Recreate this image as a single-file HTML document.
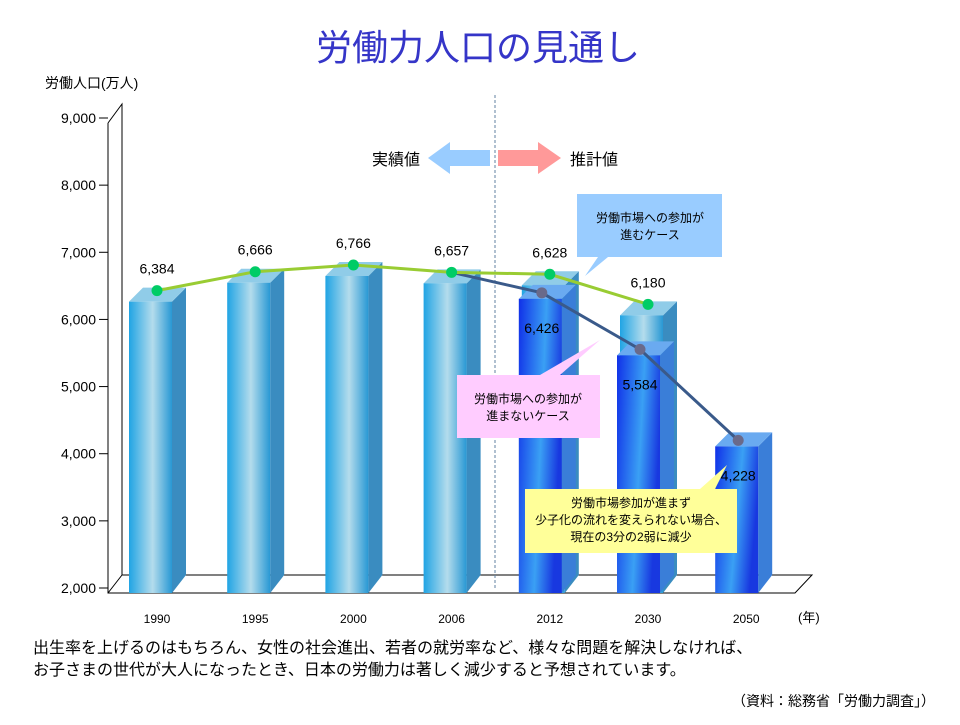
<!DOCTYPE html>
<html><head><meta charset="utf-8"><style>
body{margin:0;background:#fff;width:960px;height:720px;overflow:hidden;font-family:"Liberation Sans","Noto Sans CJK JP",sans-serif}
svg text{font-family:"Liberation Sans","Noto Sans CJK JP",sans-serif}
</style></head><body>
<svg id="c" width="960" height="720">
<defs>
<linearGradient id="gL" x1="0" x2="1"><stop offset="0" stop-color="#20a4e4"/><stop offset="0.55" stop-color="#b4dcec"/><stop offset="1" stop-color="#2898d4"/></linearGradient>
<linearGradient id="gD" x1="0" x2="1" y1="0" y2="0.3"><stop offset="0" stop-color="#1030e8"/><stop offset="0.6" stop-color="#3aa0f4"/><stop offset="1" stop-color="#1838e0"/></linearGradient>
</defs>
<text x="478" y="60" text-anchor="middle" font-size="36" fill="#3535c8">労働力人口の見通し</text>
<text x="45" y="88" font-size="14" fill="#000">労働人口(万人)</text>
<g id="axes" stroke="#000" stroke-width="1" fill="none">
<path d="M108,123 L122,104 L122,575 M108,123 L108,593 L795,593 L812,575 L122,575 M108,593 L122,575"/>
</g>
<line x1="495" y1="95" x2="495" y2="590" stroke="#6080a0" stroke-dasharray="3,2"/>
<text x="420" y="165" font-size="16" text-anchor="end">実績値</text>
<path d="M490,150 L450,150 L450,142 L428,158 L450,174 L450,166 L490,166Z" fill="#99ccff"/>
<path d="M498,150 L538,150 L538,142 L561,158 L538,174 L538,166 L498,166Z" fill="#ff9999"/>
<text x="570" y="165" font-size="16">推計値</text>
<g id="g"></g>
<path d="M577,194 L722,194 L722,257 L608,257 L585,276 L598,257 L577,257Z" fill="#99ccff"/>
<text x="650" y="222" font-size="12" text-anchor="middle">労働市場への参加が</text>
<text x="650" y="239" font-size="12" text-anchor="middle">進むケース</text>
<path d="M457,375 L540,375 L600,340 L560,375 L600,375 L600,438 L457,438Z" fill="#ffccff"/>
<text x="528" y="403" font-size="12" text-anchor="middle">労働市場への参加が</text>
<text x="528" y="420" font-size="12" text-anchor="middle">進まないケース</text>
<path d="M525,489 L700,489 L727,465 L715,489 L737,489 L737,553 L525,553Z" fill="#ffff99"/>
<text x="631" y="507" font-size="12" text-anchor="middle">労働市場参加が進まず</text>
<text x="631" y="524" font-size="12" text-anchor="middle">少子化の流れを変えられない場合、</text>
<text x="631" y="541" font-size="12" text-anchor="middle">現在の3分の2弱に減少</text>
<text x="798" y="622" font-size="13">(年)</text>
<text x="33" y="653" font-size="16">出生率を上げるのはもちろん、女性の社会進出、若者の就労率など、様々な問題を解決しなければ、</text>
<text x="33" y="675" font-size="16">お子さまの世代が大人になったとき、日本の労働力は著しく減少すると予想されています。</text>
<text x="935" y="706" font-size="14" text-anchor="end">（資料：総務省「労働力調査」）</text>
</svg>
<script>
const years=["1990","1995","2000","2006","2012","2030","2050"];
const advanceValues=[6384,6666,6766,6657,6628,6180,null];
const noAdvanceValues=[null,null,null,6657,6426,5584,4228];
const yTicks=[2000,3000,4000,5000,6000,7000,8000,9000];
const NS="http://www.w3.org/2000/svg";
const g=document.getElementById('g');
function y(v){return 588-(v-2000)*(470/7000);}
function x(i){return 157+i*98.2;}
function mk(t,a,p){const e=document.createElementNS(NS,t);for(const k in a)e.setAttribute(k,a[k]);(p||g).appendChild(e);return e;}
yTicks.forEach(v=>{
 const l=mk('line',{x1:99,x2:108,y1:y(v),y2:y(v),stroke:'#000'});
 
 
 const t=mk('text',{x:96,y:y(v)+5,'text-anchor':'end','font-size':14});
 
 
 t.textContent=v.toLocaleString('en-US');
});
function bar(cx,v,grad,side,top,dx){
 const x0=cx-28+dx,x1=cx+15+dx,yt=y(v)+8;
 const grp=mk('g',{});
 
 
 mk('polygon',{points:`${x1},${yt} ${x1+14},${yt-14} ${x1+14},${575} ${x1},${593}`,fill:side},grp);
 mk('polygon',{points:`${x0},${yt} ${x0+14},${yt-14} ${x1+14},${yt-14} ${x1},${yt}`,fill:top},grp);
 mk('rect',{x:x0,y:yt,width:x1-x0,height:593-yt,fill:'url(#'+grad+')'},grp);
}
years.forEach((yr,i)=>{
 if(advanceValues[i]!=null)bar(x(i),advanceValues[i],'gL','#3a8cc0','#90cce8',0);
 if(noAdvanceValues[i]!=null&&i>=4)bar(x(i),noAdvanceValues[i],'gD','#3a7ed8','#6aaaf0',-3);
 const t=mk('text',{x:x(i),y:623,'text-anchor':'middle','font-size':12});
 
 
 t.textContent=yr;
});
function line(vals,color,dot,dy,green){
 const pts=[];vals.forEach((v,i)=>{if(v!=null){
   const first=pts.length===0;
   const px=green?x(i):(first?x(i):x(i)-8);
   const py=green?y(v)-3:(first?y(v)-3:y(v)+dy);
   pts.push([px,py,v]);}});
 const p=mk('polyline',{points:pts.map(q=>q[0]+','+q[1]).join(' '),fill:'none',stroke:color,'stroke-width':3});
 
 
 pts.forEach((q,k)=>{
  if(!green&&k===0)return;
  const c=mk('circle',{cx:q[0],cy:q[1],r:5.5,fill:dot});
  
  
 });
 return pts;
}
const pa=line(noAdvanceValues,'#3a5a8a','#6a6a8a',2,false);
const pb=line(advanceValues,'#99cc33','#00cc66',-3,true);
pb.forEach(q=>{const t=mk('text',{x:q[0],y:q[1]-17,'text-anchor':'middle','font-size':14});
 
 
 t.textContent=q[2].toLocaleString('en-US');});
pa.slice(1).forEach(q=>{const t=mk('text',{x:q[0],y:q[1]+40,'text-anchor':'middle','font-size':14});
 
 
 t.textContent=q[2].toLocaleString('en-US');});
</script>
</body></html>
